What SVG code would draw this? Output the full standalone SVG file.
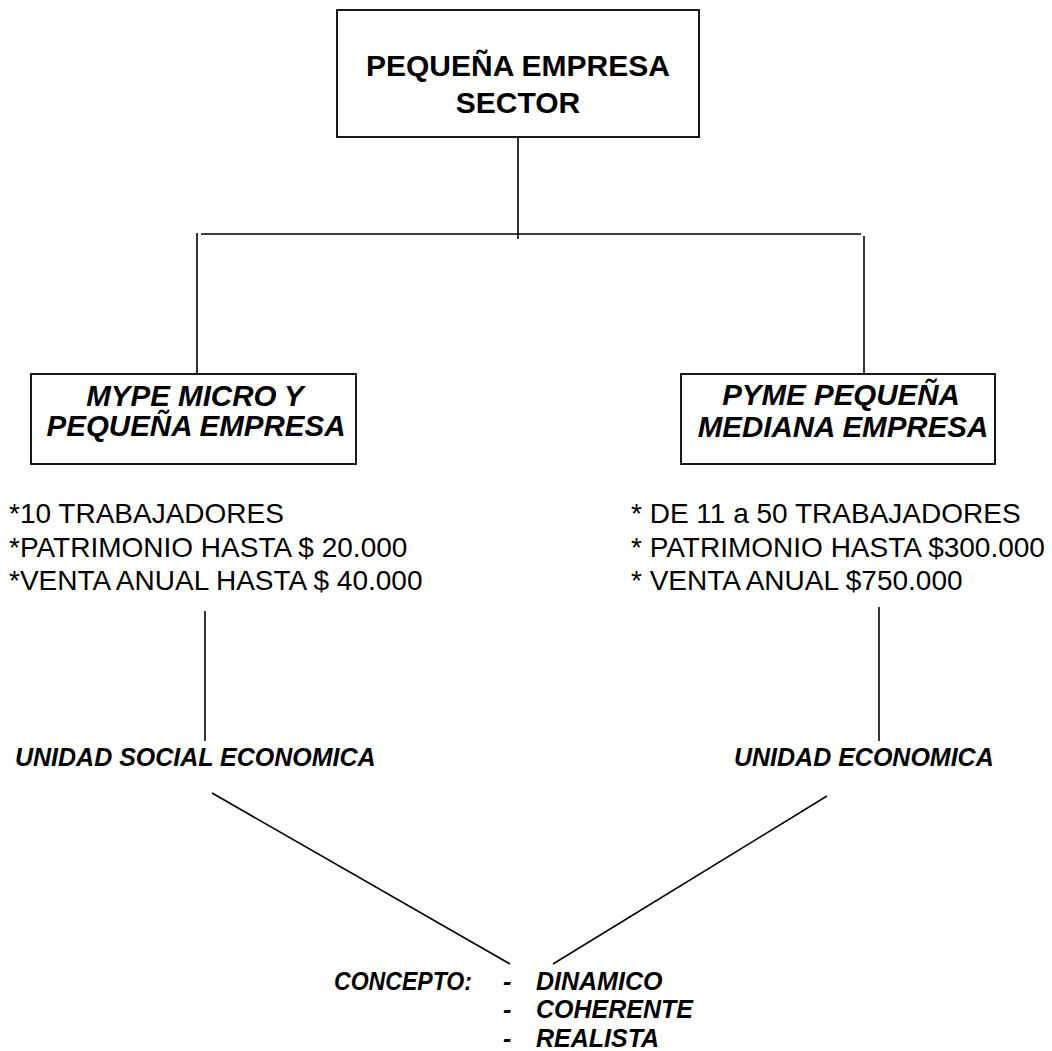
<svg xmlns="http://www.w3.org/2000/svg" width="1052" height="1051" viewBox="0 0 1052 1051">
<style>
.box{fill:#fff;stroke:#000;stroke-width:1.8}
.ln{stroke:#000;stroke-width:1.6;fill:none}
.t{font-family:"Liberation Sans",Arial,sans-serif;fill:#000}
.h1{font-size:30px;font-weight:bold;text-anchor:middle}
.h2{font-size:29.5px;font-weight:bold;font-style:italic;text-anchor:middle}
.b{font-size:28px}
.i{font-size:25px;font-weight:bold;font-style:italic}
</style>
<rect width="1052" height="1051" fill="#fff"/>
<g id="connectors">
<line class="ln" x1="518" y1="137" x2="518" y2="239"/>
<line class="ln" x1="201" y1="234" x2="861" y2="234" stroke-width="2.4"/>
<line class="ln" x1="197" y1="233" x2="197" y2="374"/>
<line class="ln" x1="864" y1="236" x2="864" y2="374"/>
<line class="ln" x1="205" y1="611" x2="205" y2="741"/>
<line class="ln" x1="879" y1="607" x2="879" y2="741"/>
<line class="ln" x1="212" y1="793" x2="510" y2="964"/>
<line class="ln" x1="827" y1="796" x2="553" y2="964"/>
</g>
<g id="sector">
<rect class="box" x="337" y="10" width="362" height="127"/>
<text class="t h1" x="518" y="76">PEQUEÑA EMPRESA</text>
<text class="t h1" x="518" y="113">SECTOR</text>
</g>
<g id="mype">
<rect class="box" x="31" y="374" width="325" height="90"/>
<text class="t h2" x="195" y="406">MYPE MICRO Y</text>
<text class="t h2" x="196" y="436">PEQUEÑA EMPRESA</text>
</g>
<g id="pyme">
<rect class="box" x="681" y="374" width="314" height="90"/>
<text class="t h2" x="841" y="405">PYME PEQUEÑA</text>
<text class="t h2" x="843" y="437">MEDIANA EMPRESA</text>
</g>
<g id="mype-datos">
<text class="t b" x="9" y="523">*10 TRABAJADORES</text>
<text class="t b" x="9" y="557">*PATRIMONIO HASTA $ 20.000</text>
<text class="t b" x="9" y="590">*VENTA ANUAL HASTA $ 40.000</text>
</g>
<g id="pyme-datos">
<text class="t b" x="631" y="523">* DE 11 a 50 TRABAJADORES</text>
<text class="t b" x="631" y="557">* PATRIMONIO HASTA $300.000</text>
<text class="t b" x="631" y="590">* VENTA ANUAL $750.000</text>
</g>
<g id="unidad-social">
<text class="t i" x="15" y="766">UNIDAD SOCIAL ECONOMICA</text>
</g>
<g id="unidad-economica">
<text class="t i" x="734" y="766">UNIDAD ECONOMICA</text>
</g>
<g id="concepto">
<text class="t i" x="334" y="990" textLength="138" lengthAdjust="spacingAndGlyphs">CONCEPTO:</text>
<text class="t i" x="503" y="990">-</text>
<text class="t i" x="536" y="990">DINAMICO</text>
<text class="t i" x="503" y="1018">-</text>
<text class="t i" x="536" y="1018">COHERENTE</text>
<text class="t i" x="503" y="1047">-</text>
<text class="t i" x="536" y="1047">REALISTA</text>
</g>
</svg>
